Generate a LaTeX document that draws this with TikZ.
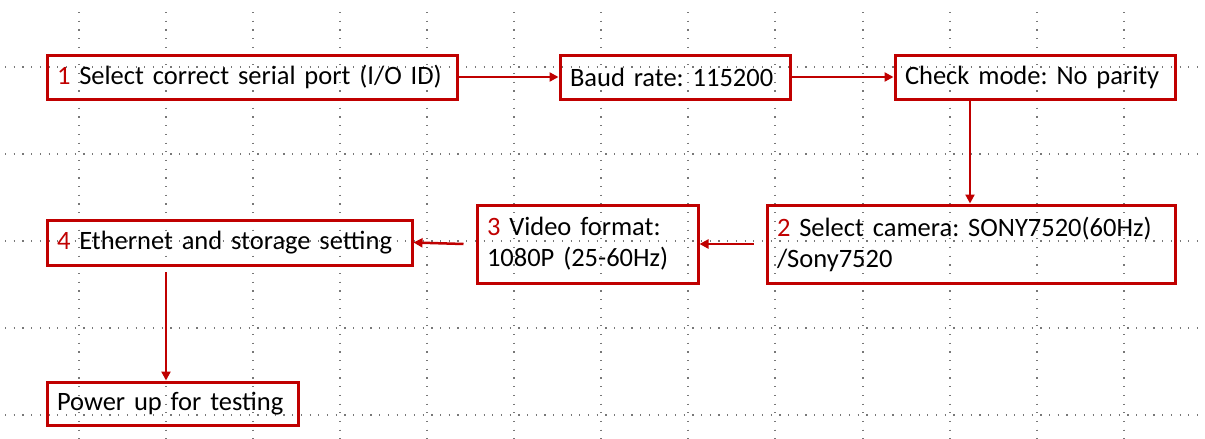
\documentclass[tikz,border=0pt]{standalone}
\usepackage{fontspec}
\setmainfont{Carlito}
\usetikzlibrary{arrows.meta}
\definecolor{boxred}{RGB}{192,0,0}
\definecolor{gridgray}{RGB}{120,120,120}
\frenchspacing
\begin{document}
\begin{tikzpicture}[x=1pt,y=-1pt,
  stepbox/.style={draw=boxred,line width=3pt,rectangle,align=left,anchor=center,
    inner xsep=10pt,inner ysep=0pt,font=\fontsize{26.5}{31}\selectfont,text=black},
  flow/.style={draw=boxred,line width=2.5pt,-{Triangle[length=9pt,width=9pt]}},
  gridline/.style={draw=gridgray,line width=1.2pt,dash pattern=on 1.2pt off 7.5pt},
  num/.style={text=boxred}]
\useasboundingbox (0,0) rectangle (1205,439);
% grid
\foreach \gx in {79,166,253,340,427,514,601,688,775,863,950,1037,1124}
  \draw[gridline] (\gx,12) -- (\gx,439);
\foreach \gy in {67,154,241,328,415}
  \draw[gridline] (5,\gy) -- (1205,\gy);
% boxes
\node[stepbox,text width=390pt,minimum height=44pt] (s1) at (252,77) {{\color{boxred}1} Select correct serial port (I/O ID)};
\node[stepbox,text width=210pt,minimum height=44pt] (baud) at (675,77) {Baud rate: 115200};
\node[stepbox,text width=260pt,minimum height=44pt] (check) at (1035,77) {Check mode: No parity};
\node[stepbox,text width=388pt,minimum height=78pt] (s2) at (971,244) {{\color{boxred}2} Select camera: SONY7520(60Hz)\\/Sony7520};
\node[stepbox,text width=201pt,minimum height=78pt] (s3) at (587.5,244) {{\color{boxred}3} Video format:\\1080P (25-60Hz)};
\node[stepbox,text width=345pt,minimum height=45pt] (s4) at (229.5,242.5) {{\color{boxred}4} Ethernet and storage setting};
\node[stepbox,text width=231pt,minimum height=43pt] (pw) at (172.5,403.5) {Power up for testing};
% connectors
\draw[flow] (s1.east) -- (baud.west);
\draw[flow] (baud.east) -- (check.west);
\coordinate (c1) at (970,99);
\draw[flow] (c1) -- (c1 |- s2.north);
\draw[flow] ([xshift=-12pt]s2.west) -- (s3.east);
\draw[flow] ([xshift=-12pt]s3.west) -- (s4.east);
\coordinate (c2) at (166,272);
\draw[flow] (c2) -- (c2 |- pw.north);
\end{tikzpicture}
\end{document}
